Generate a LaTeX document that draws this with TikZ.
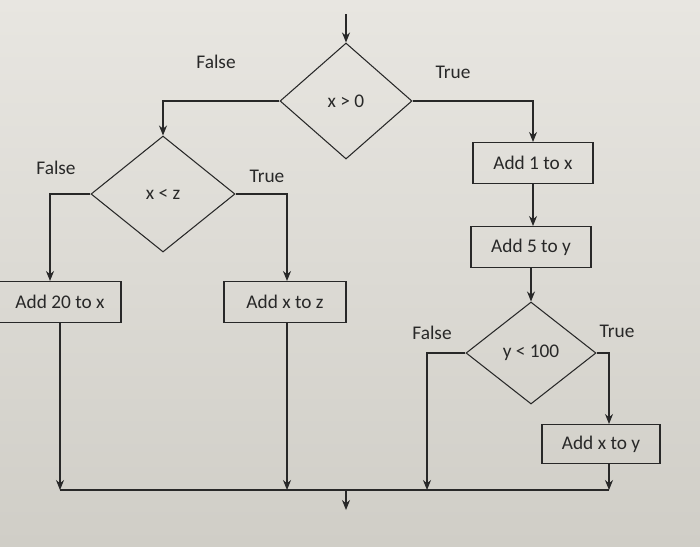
\documentclass[tikz,border=0pt]{standalone}
\usepackage{fontspec}
\setmainfont{Carlito}
\usetikzlibrary{shapes.geometric, arrows.meta}

\definecolor{paperTop}{RGB}{232,230,225}
\definecolor{paperBot}{RGB}{208,206,199}
\definecolor{ink}{RGB}{40,40,40}

\begin{document}
\begin{tikzpicture}[x=0.2mm, y=-0.2mm,
        every node/.style={font=\fontsize{11}{13}\selectfont, text=ink},
        decision/.style={diamond, draw=ink, semithick, inner sep=0pt},
        action/.style={rectangle, draw=ink, semithick, minimum height=8.2mm},
        lbl/.style={inner sep=1pt},
        arr/.style={draw=ink, semithick, -{Stealth[length=2mm, width=1.6mm]}},
        ln/.style={draw=ink, semithick}]
        % paper
        \useasboundingbox (0,0) rectangle (700,546);
        \shade[top color=paperTop, bottom color=paperBot] (0,0) rectangle (700,546);

        % decisions
        \node[decision, minimum width=26.4mm, minimum height=23.2mm] (d1) at (346,101) {x > 0};
        \node[decision, minimum width=28.8mm, minimum height=23.2mm] (d2) at (163,194) {x < z};
        \node[decision, minimum width=26mm, minimum height=20.4mm] (d3) at (531,353) {y < 100};

        % actions
        \node[action, minimum width=24mm] (b1) at (533,163) {Add 1 to x};
        \node[action, minimum width=24mm] (b2) at (531,247) {Add 5 to y};
        \node[action, minimum width=24.4mm] (b3) at (60,302) {Add 20 to x};
        \node[action, minimum width=24.4mm] (b4) at (285,302) {Add x to z};
        \node[action, minimum width=23.6mm, minimum height=7.8mm] (b5) at (601,444) {Add x to y};

        % branch labels
        \node[lbl] (lf1) at (216,62) {False};
        \node[lbl] (lt1) at (453,72) {True};
        \node[lbl] (lf2) at (56,168) {False};
        \node[lbl] (lt2) at (267,176) {True};
        \node[lbl] (lf3) at (432,333) {False};
        \node[lbl] (lt3) at (617,331) {True};

        % in and out
        \coordinate (start) at (346,14);
        \coordinate (m) at (346,490);
        \coordinate (stop) at (346,510);
        \coordinate (f3) at (427,490);

        \draw[arr] (start) -- (d1.north);
        \draw[arr] (d1.west) -| (d2.north);
        \draw[arr] (d1.east) -| (b1.north);
        \draw[arr] (b1.south) -- (b1.south |- b2.north);
        \draw[arr] (b2) -- (d3.north);

        \draw[arr] (d2.west) -| ([xshift=-2mm]b3.north);
        \draw[arr] (d2.east) -| ([xshift=0.4mm]b4.north);
        \draw[arr] (d3.east) -| ([xshift=1.6mm]b5.north);
        \draw[arr] (d3.west) -| (f3);

        \draw[arr] (b3.south) -- (b3.south |- m);
        \draw[arr] ([xshift=0.4mm]b4.south) -- ([xshift=0.4mm]b4.south |- m);
        \draw[arr] ([xshift=1.6mm]b5.south) -- ([xshift=1.6mm]b5.south |- m);
        \draw[ln] (b3.south |- m) -- ([xshift=1.6mm]b5.south |- m);
        \draw[arr] (m) -- (stop);
\end{tikzpicture}
\end{document}
